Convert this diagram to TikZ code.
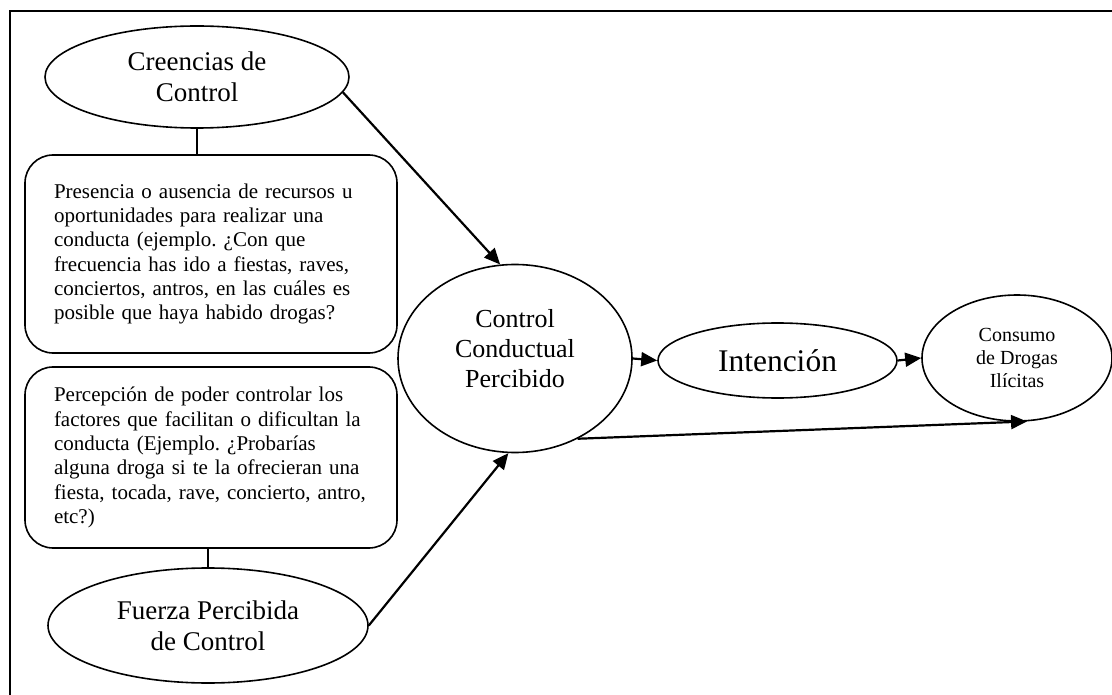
\documentclass[tikz,border=0pt]{standalone}
\usepackage{fontspec}
\setmainfont{Liberation Serif}
\usetikzlibrary{shapes.geometric,arrows.meta}
\begin{document}
\frenchspacing
\begin{tikzpicture}[x=1pt,y=-1pt,
  oval/.style={draw, ellipse, line width=1.6pt, inner sep=0pt, align=center},
  txtbox/.style={draw, rounded corners=28pt, line width=1.6pt, minimum width=372pt, text width=314pt, inner xsep=29pt, inner ysep=0pt, align=left, font=\fontsize{21}{24.3}\selectfont},
  conn/.style={line width=1.6pt},
  arr/.style={line width=2.2pt, -{Triangle[length=16pt,width=14pt]}}]
\useasboundingbox (0,0) rectangle (1112,695);
\draw[line width=1.8pt] (10,695) -- (10,11) -- (1112,11);

\node[oval, minimum width=304pt, minimum height=102pt, font=\fontsize{27}{31}\selectfont] (cc) at (197,77) {Creencias de\\Control};
\node[txtbox, minimum height=198pt] (b1) at (211,254) {Presencia o ausencia de recursos u\\
oportunidades para realizar una\\
conducta (ejemplo. ¿Con que\\
frecuencia has ido a fiestas, raves,\\
conciertos, antros, en las cuáles es\\
posible que haya habido drogas?};
\node[txtbox, minimum height=181pt] (b2) at (211,457.5) {Percepción de poder controlar los\\
factores que facilitan o dificultan la\\
conducta (Ejemplo. ¿Probarías\\
alguna droga si te la ofrecieran una\\
fiesta, tocada, rave, concierto, antro,\\
etc?)};
\node[oval, minimum width=320pt, minimum height=115pt, font=\fontsize{27}{31}\selectfont] (fpc) at (208,625.5) {Fuerza Percibida\\de Control};
\node[oval, minimum width=234pt, minimum height=188pt] (ccp) at (515,358.5) {};
\node[align=center, font=\fontsize{26}{30}\selectfont] (ccpt) at (515,349) {Control\\Conductual\\Percibido};
\node[oval, minimum width=239pt, minimum height=75pt, font=\fontsize{31.5}{36}\selectfont] (int) at (777.5,360.5) {Intención};
\node[oval, minimum width=190pt, minimum height=126pt, font=\fontsize{20}{23}\selectfont] (cdi) at (1017,358) {Consumo\\de Drogas\\Ilícitas};

\draw[conn] (cc.south) -- (cc.south |- b1.north);
\draw[conn] (b2.south -| fpc.north) -- (fpc.north);
\draw[arr] (cc.-6) -- (ccp.99);
\draw[arr] (fpc.east) -- (ccp.-94);
\draw[arr] (ccp.east) -- (int.west);
\draw[arr] (int.east) -- (cdi.west);
\draw[arr] (ccp.-52) -- (cdi.-81);
\end{tikzpicture}
\end{document}
